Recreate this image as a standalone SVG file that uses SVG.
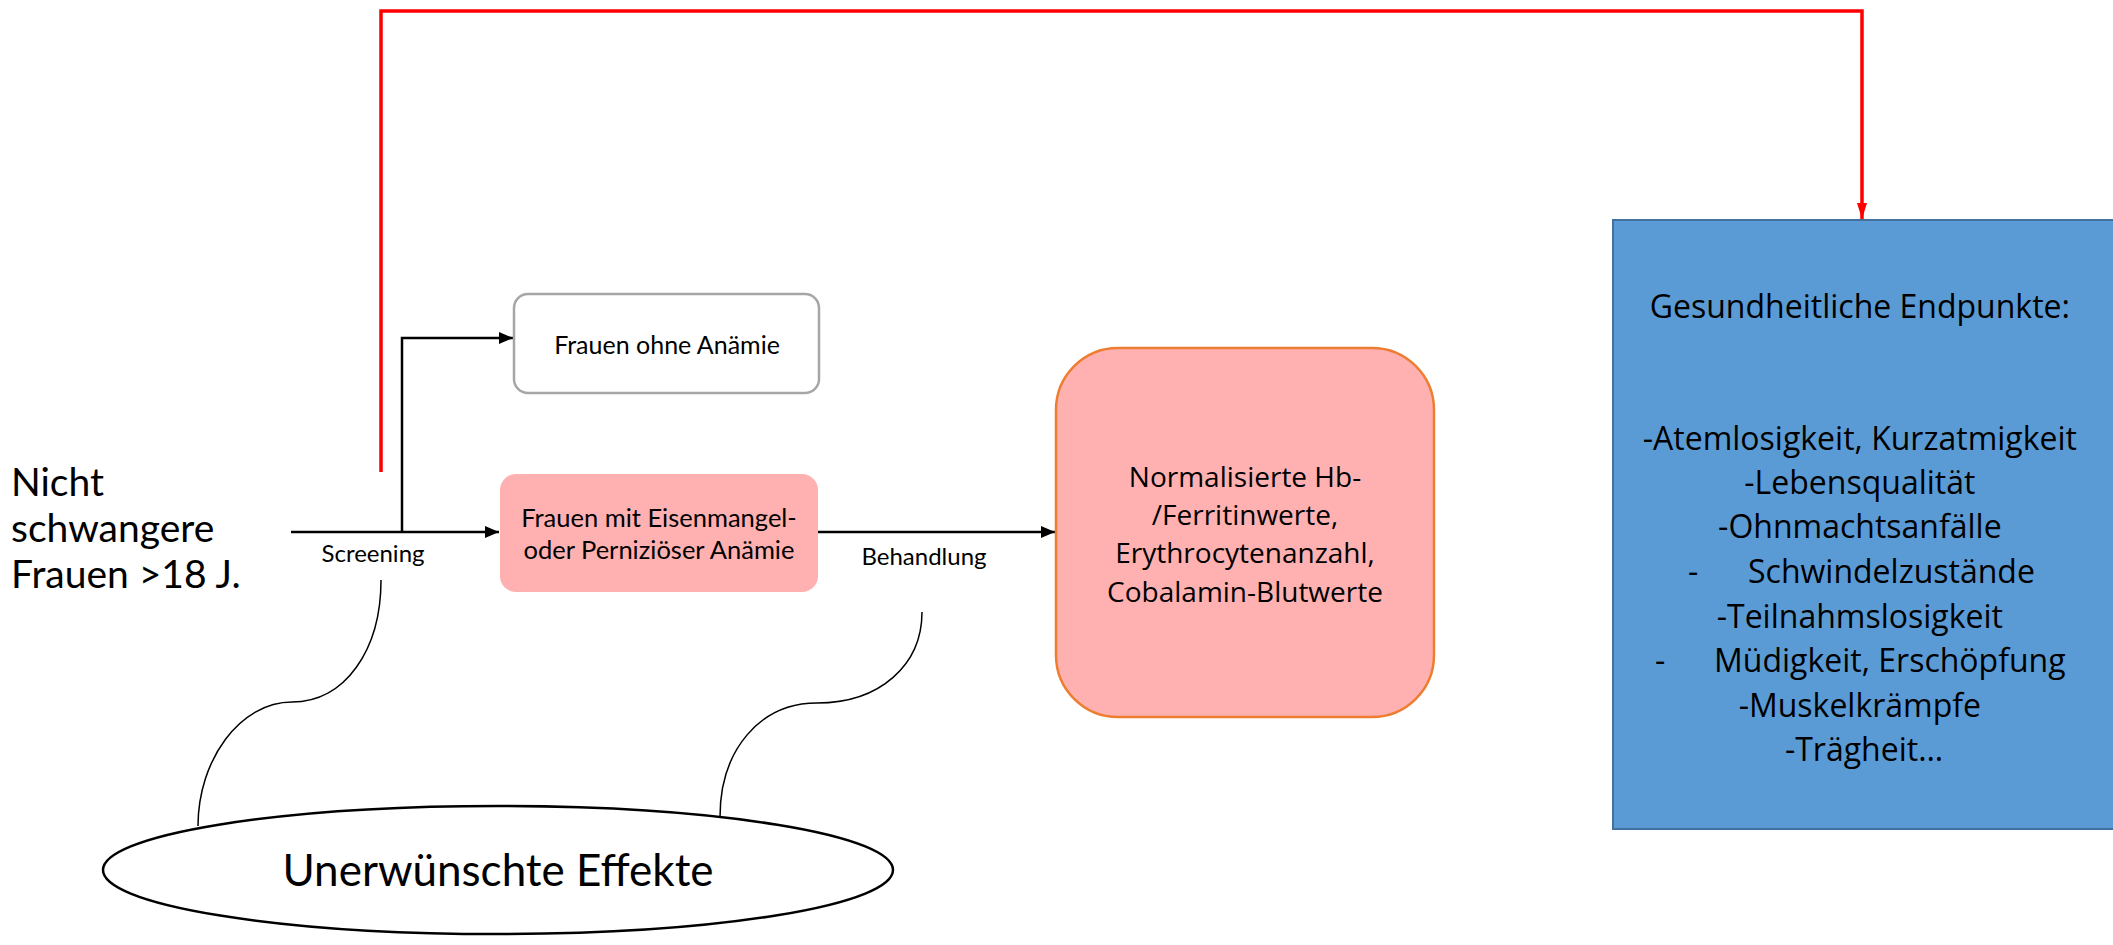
<svg xmlns="http://www.w3.org/2000/svg" width="2113" height="945" viewBox="0 0 2113 945">
<style>
.cal{font-family:Lato,"Liberation Sans",sans-serif;fill:#000}
.seg{font-family:"Open Sans","DejaVu Sans",sans-serif;fill:#000}
.blk{fill:none;stroke:#000;stroke-width:2.5}
.thin{fill:none;stroke:#000;stroke-width:1.5}
</style>
<defs>
<marker id="ab" markerWidth="14" markerHeight="12" refX="14" refY="6" orient="auto" markerUnits="userSpaceOnUse"><path d="M0,0 L14,6 L0,12 Z" fill="#000"/></marker>
<marker id="ar" markerWidth="16" markerHeight="10" refX="16" refY="5" orient="auto" markerUnits="userSpaceOnUse"><path d="M0,0 L16,5 L0,10 Z" fill="#f00"/></marker>
</defs>
<rect width="2113" height="945" fill="#fff"/>
<g id="connectors">
<path d="M381,472 V11 H1862 V219" fill="none" stroke="#f00" stroke-width="3.5" marker-end="url(#ar)"/>
<path d="M291,532 H499" class="blk" marker-end="url(#ab)"/>
<path d="M402,532 V338 H513" class="blk" marker-end="url(#ab)"/>
<path d="M818,532 H1055" class="blk" marker-end="url(#ab)"/>
<path d="M381,580 C381,650 345,702 292,702 C240,702 198,760 198,826" class="thin"/>
<path d="M922,612 C922,665 880,703 817,703 C760,703 720,750 720,817" class="thin"/>
</g>
<g id="start">
<text class="cal" font-size="39" x="11"><tspan x="11" y="496">Nicht</tspan><tspan x="11" y="542">schwangere</tspan><tspan x="11" y="588">Frauen &gt;18 J.</tspan></text>
</g>
<g id="label-screening"><text class="cal" font-size="24" x="373" y="562" text-anchor="middle">Screening</text></g>
<g id="label-behandlung"><text class="cal" font-size="24" x="924" y="565" text-anchor="middle">Behandlung</text></g>
<g id="ohne">
<rect x="514" y="294" width="305" height="99" rx="14" fill="#fff" stroke="#a6a6a6" stroke-width="2.5"/>
<text class="cal" font-size="25" x="667" y="354" text-anchor="middle">Frauen ohne Anämie</text>
</g>
<g id="mit">
<rect x="500" y="474" width="318" height="118" rx="16" fill="#ffb1b1"/>
<text class="cal" font-size="25.5" text-anchor="middle"><tspan x="659" y="527">Frauen mit Eisenmangel-</tspan><tspan x="659" y="559">oder Perniziöser Anämie</tspan></text>
</g>
<g id="normal">
<rect x="1056" y="348" width="378" height="369" rx="62" fill="#ffb1b1" stroke="#ed7d31" stroke-width="2.5"/>
<text class="seg" font-size="28" text-anchor="middle"><tspan x="1245" y="487">Normalisierte Hb-</tspan><tspan x="1245" y="525">/Ferritinwerte,</tspan><tspan x="1245" y="563">Erythrocytenanzahl,</tspan><tspan x="1245" y="602">Cobalamin-Blutwerte</tspan></text>
</g>
<g id="endpunkte">
<rect x="1613" y="220" width="510" height="609" fill="#5b9bd5" stroke="#41719c" stroke-width="2"/>
<text class="seg" font-size="32" text-anchor="middle">
<tspan x="1864" y="318">Gesundheitliche Endpunkte:</tspan>
<tspan x="1864" y="450">-Atemlosigkeit, Kurzatmigkeit</tspan>
<tspan x="1864" y="494">-Lebensqualität</tspan>
<tspan x="1864" y="538">-Ohnmachtsanfälle</tspan>
<tspan x="1688" y="583" text-anchor="start">-</tspan><tspan x="1748" y="583" text-anchor="start">Schwindelzustände</tspan>
<tspan x="1864" y="628">-Teilnahmslosigkeit</tspan>
<tspan x="1655" y="672" text-anchor="start">-</tspan><tspan x="1714" y="672" text-anchor="start">Müdigkeit, Erschöpfung</tspan>
<tspan x="1864" y="717">-Muskelkrämpfe</tspan>
<tspan x="1864" y="761">-Trägheit…</tspan>
</text>
</g>
<g id="effekte">
<ellipse cx="498" cy="870" rx="395" ry="64" fill="#fff" stroke="#000" stroke-width="2.5"/>
<text class="cal" font-size="44" x="498" y="886" text-anchor="middle">Unerwünschte Effekte</text>
</g>
</svg>
